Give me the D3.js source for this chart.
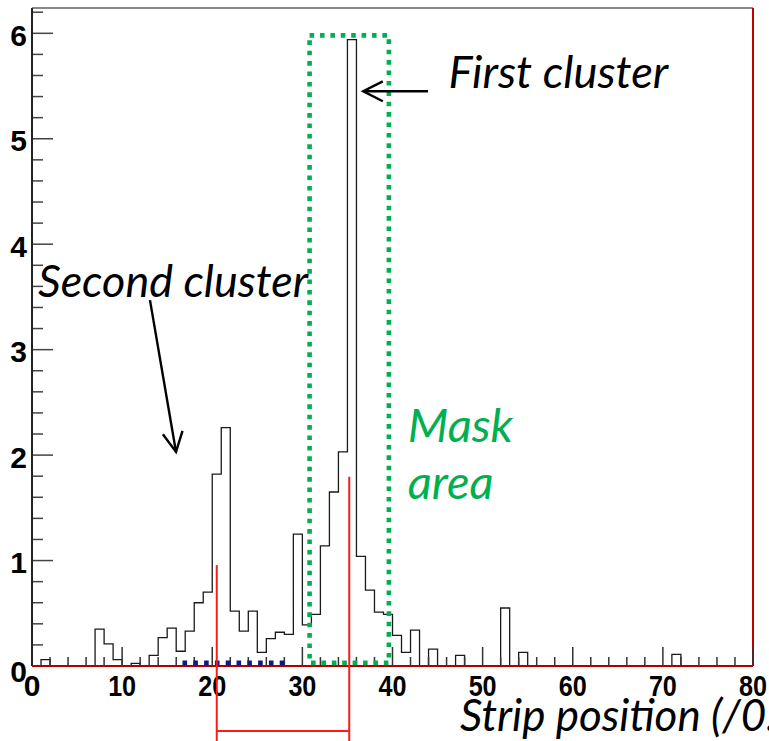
<!DOCTYPE html>
<html>
<head>
<meta charset="utf-8">
<script src="https://cdn.jsdelivr.net/npm/d3@7"></script>
<style>
  html, body { margin: 0; padding: 0; background: #fff; }
  svg { display: block; }
</style>
</head>
<body>
<svg id="chart" width="769" height="741"></svg>
<script>
// Per-strip charge, one value per strip (strips 0..79)
const strips = d3.range(80);
const counts = [
  0, 0.06, 0, 0, 0, 0, 0, 0.35, 0.21, 0.06,
  0, 0.025, 0, 0.10, 0.27, 0.36, 0.14, 0.33, 0.60, 0.70,
  1.82, 2.26, 0.52, 0.33, 0.52, 0.13, 0.26, 0.32, 0.30, 1.25,
  0.39, 0.49, 1.14, 1.65, 2.03, 5.94, 1.04, 0.72, 0.51, 0.49,
  0.29, 0.13, 0.34, 0, 0.16, 0, 0, 0.10, 0, 0,
  0, 0, 0.55, 0, 0.13, 0, 0, 0, 0, 0,
  0, 0, 0, 0, 0, 0, 0, 0, 0, 0,
  0, 0.11, 0, 0, 0, 0, 0, 0, 0, 0
];
const xTickLabels = [0, 10, 20, 30, 40, 50, 60, 70, 80];
const yTickLabels = [0, 1, 2, 3, 4, 5, 6];

// Cluster centroid markers (position, marker height)
const centroids = [[20.5, 0.957], [35.2, 1.794]];
// Mask window around the first cluster
const maskX = [30.8, 39.6];
const maskY = [0.03, 5.98];
// Strip range of the second-cluster search band
const bandX = [16.7, 28.0];

const svg = d3.select("#chart");
const x = d3.scaleLinear().domain([0, 80]).range([32, 753]);
const y = d3.scaleLinear().domain([0, 6.24]).range([666, 8]);

// Frame: top (grey) and right (red) edges
svg.append("line").attr("x1", x(0)).attr("x2", x(80)).attr("y1", y(6.24)).attr("y2", y(6.24))
  .attr("stroke", "#888").attr("stroke-width", 2);
svg.append("line").attr("x1", x(80)).attr("x2", x(80)).attr("y1", y(6.24)).attr("y2", y(0))
  .attr("stroke", "#c00000").attr("stroke-width", 2);

// Histogram outline (step path)
const stepPts = [];
strips.forEach((s, i) => {
  stepPts.push([x(s), y(counts[i])]);
  stepPts.push([x(s + 1), y(counts[i])]);
});
stepPts.unshift([x(0), y(0)]);
stepPts.push([x(80), y(0)]);
svg.append("path")
  .attr("d", d3.line()(stepPts))
  .attr("fill", "none").attr("stroke", "#1a1a1a").attr("stroke-width", 1.3);

// X axis ticks (drawn inward, ROOT style)
const xg = svg.append("g");
d3.range(0, 81, 2).forEach(v => {
  const major = v % 10 === 0;
  xg.append("line").attr("x1", x(v)).attr("x2", x(v))
    .attr("y1", y(0)).attr("y2", y(0) - (major ? 19 : 9))
    .attr("stroke", "#333").attr("stroke-width", 1.5);
});
xTickLabels.forEach(v => {
  const t = xg.append("text").attr("x", x(v)).attr("y", 696)
    .attr("text-anchor", "middle")
    .attr("font-family", "Liberation Sans, Arial, sans-serif")
    .attr("font-weight", "bold").attr("font-size", 30).attr("fill", "#000")
    .text(v);
  if (String(v).length === 2) t.attr("textLength", 28).attr("lengthAdjust", "spacingAndGlyphs");
});

// Y axis ticks
const yg = svg.append("g");
d3.range(0, 6.21, 0.2).forEach(v => {
  const major = Math.abs(v - Math.round(v)) < 1e-6;
  yg.append("line").attr("x1", x(0)).attr("x2", x(0) + (major ? 21 : 11))
    .attr("y1", y(v)).attr("y2", y(v))
    .attr("stroke", "#444").attr("stroke-width", 1.5);
});
yTickLabels.forEach(v => {
  yg.append("text").attr("x", 27).attr("y", y(v) + (v === 0 ? 5 : 2))
    .attr("text-anchor", "end").attr("dominant-baseline", "central")
    .attr("font-family", "Liberation Sans, Arial, sans-serif")
    .attr("font-weight", "bold").attr("font-size", 30).attr("fill", "#000")
    .text(v);
});

// Axis lines
svg.append("line").attr("x1", x(0)).attr("x2", x(0)).attr("y1", y(6.24)).attr("y2", y(0))
  .attr("stroke", "#222").attr("stroke-width", 2);
svg.append("line").attr("x1", x(0)).attr("x2", x(80)).attr("y1", y(0)).attr("y2", y(0))
  .attr("stroke", "#b00000").attr("stroke-width", 2);

// Second-cluster search band (blue dotted)
svg.append("line").attr("x1", x(bandX[0])).attr("x2", x(bandX[1]))
  .attr("y1", y(0) - 3).attr("y2", y(0) - 3)
  .attr("stroke", "#0a1a8a").attr("stroke-width", 5).attr("stroke-dasharray", "4.6 6.2");

// Mask window (green dotted)
svg.append("rect")
  .attr("x", x(maskX[0])).attr("y", y(maskY[1]))
  .attr("width", x(maskX[1]) - x(maskX[0])).attr("height", y(maskY[0]) - y(maskY[1]))
  .attr("fill", "none").attr("stroke", "#00b050").attr("stroke-width", 4.6)
  .attr("stroke-dasharray", "4.6 5.8");

// Centroid markers and the distance bracket between them
centroids.forEach(([cx, h]) => {
  svg.append("line").attr("x1", x(cx)).attr("x2", x(cx)).attr("y1", y(h)).attr("y2", 741)
    .attr("stroke", "#ff1a1a").attr("stroke-width", 2);
});
svg.append("line").attr("x1", x(centroids[0][0])).attr("x2", x(centroids[1][0]))
  .attr("y1", 731).attr("y2", 731)
  .attr("stroke", "#ff1a1a").attr("stroke-width", 2);

// Annotations
const annFont = "Lato, 'Open Sans', sans-serif";
function fitText(sel, width) {
  const len = sel.node().getComputedTextLength();
  const fs = parseFloat(sel.attr("font-size"));
  sel.attr("font-size", fs * width / len);
}
function arrow(x1, y1, x2, y2) {
  const ang = Math.atan2(y2 - y1, x2 - x1);
  const L = 22, a = 0.47;
  svg.append("line").attr("x1", x1).attr("y1", y1).attr("x2", x2).attr("y2", y2)
    .attr("stroke", "#000").attr("stroke-width", 2.4);
  const p = [
    [x2 - L * Math.cos(ang - a), y2 - L * Math.sin(ang - a)],
    [x2, y2],
    [x2 - L * Math.cos(ang + a), y2 - L * Math.sin(ang + a)]
  ];
  svg.append("path").attr("d", d3.line()(p)).attr("fill", "none")
    .attr("stroke", "#000").attr("stroke-width", 2.4);
}

const first = svg.append("text").attr("x", x(46.2)).attr("y", y(5.48))
  .attr("font-family", annFont).attr("font-style", "italic").attr("font-size", 40)
  .attr("fill", "#000").text("First cluster");
fitText(first, 220);
arrow(x(43.94), y(5.45), x(36.75), y(5.45));

const second = svg.append("text").attr("x", x(0.67)).attr("y", y(3.50))
  .attr("font-family", annFont).attr("font-style", "italic").attr("font-size", 40)
  .attr("fill", "#000").text("Second cluster");
fitText(second, 270);
arrow(x(13.09), y(3.47), x(15.98), y(2.03));

const mask = svg.append("text").attr("x", x(41.7)).attr("y", y(2.12))
  .attr("font-family", annFont).attr("font-style", "italic").attr("font-size", 40)
  .attr("fill", "#00b050").text("Mask");
fitText(mask, 105);
svg.append("text").attr("x", x(41.7)).attr("y", y(1.585))
  .attr("font-family", annFont).attr("font-style", "italic")
  .attr("font-size", mask.attr("font-size"))
  .attr("fill", "#00b050").text("area");

svg.append("text").attr("x", 460).attr("y", 731)
  .attr("font-family", annFont).attr("font-style", "italic")
  .attr("font-size", parseFloat(first.attr("font-size")) * 0.97)
  .attr("fill", "#000").text("Strip position (/0.4mm)");
</script>
</body>
</html>
